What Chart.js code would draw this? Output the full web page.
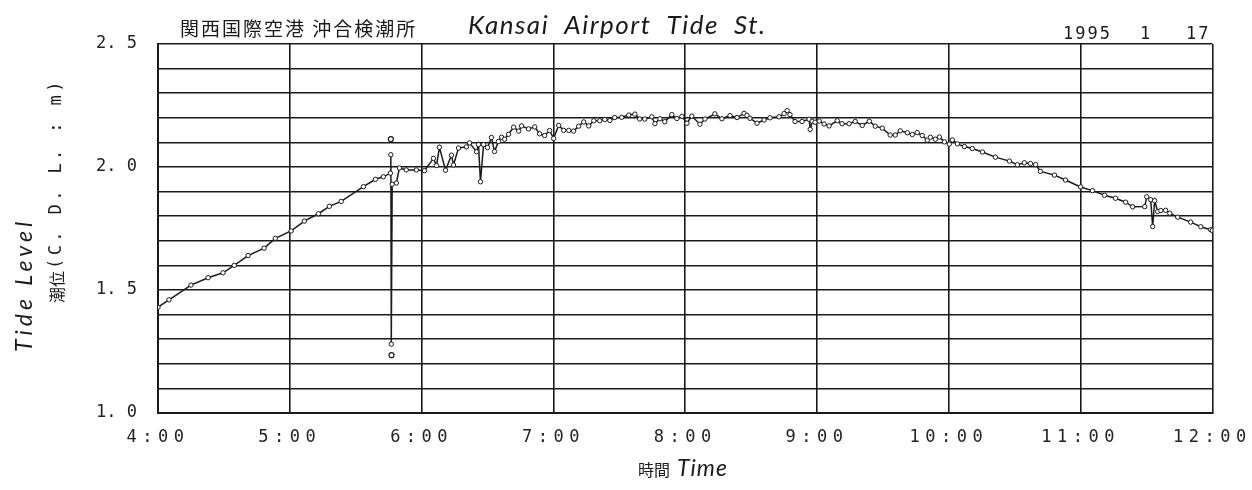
<!DOCTYPE html>
<html>
<head>
<meta charset="utf-8">
<script src="https://cdn.jsdelivr.net/npm/chart.js"></script>
<style>
  html, body { margin: 0; padding: 0; background: #fff; }
  canvas { display: block; background: #fff; }
</style>
</head>
<body>
<canvas id="tideChart" width="1252" height="490"></canvas>
<script>
// minutes after midnight, 17 Jan 1995
var times = [
  240, 245, 255, 262.8, 269.6, 274.7, 281, 288.3, 293.4, 300.6, 306.6, 313, 318, 323.4, 333.5, 339, 342.6,
  345.8, 346.0, 346.2, 346.6, 348.5, 349.9, 353, 357.6, 361.3,
  365.4, 366.8, 368.1, 370.9, 373.6, 374.5, 376.8, 380.4, 381.8, 385, 385.9, 386.8, 388.2, 390, 391.8, 393.2,
  395, 396.4, 397.8, 399.6, 401.9, 404.2, 405.5, 408.7, 411.5, 413.7, 416, 418.3, 420.1, 422.4, 424.7, 427,
  429.2, 431.5, 433.8, 436.1, 438.4, 441.1, 443.4, 445.7, 447.9, 451.1, 454.3, 457.1, 459.3, 461.6, 464.8,
  466.2, 468.5, 470.7, 473.9, 476.2, 478.5, 480.8, 483, 486.7, 489, 493.5, 496.7, 500.4, 503.6, 506.8, 508.1,
  509.5, 512.7, 515.9, 518.6, 522.7, 525, 526.4, 527.7, 530, 533.2, 536.4, 536.9, 537.8, 539.1, 541, 543.2,
  545.5, 549.2, 551.4, 554.6, 557.4, 560.6, 563.8, 566.5, 569.7, 573.3, 575.6, 577.9, 581.1, 583.4, 585.6,
  587.9, 590.2, 591.6, 593.9, 595.7, 598, 600.2, 601.6, 603.9, 607.1, 610.7, 615.3, 621.2, 627.6, 631.2,
  634.4, 637.2, 639.5, 641.7, 648.1, 653.1, 660, 665.4, 670.9, 675.9, 680.5, 683.7, 689.2, 690.1, 691.9,
  692.8, 693.7, 695.1, 696.5, 698.7, 700.6, 704.2, 710.1, 714.7, 719.2, 720
];
var levels = [
  1.43, 1.46, 1.52, 1.55, 1.57, 1.60, 1.64, 1.67, 1.71, 1.74, 1.78, 1.81, 1.84, 1.86, 1.92, 1.95, 1.96,
  1.975, 2.05, 1.28, 1.93, 1.935, 1.996, 1.988, 1.988, 1.985,
  2.035, 2.006, 2.080, 1.987, 2.048, 2.008, 2.077, 2.082, 2.098, 2.062, 2.091, 1.940, 2.091, 2.079, 2.120, 2.063,
  2.104, 2.121, 2.113, 2.133, 2.162, 2.146, 2.167, 2.155, 2.163, 2.135, 2.128, 2.148, 2.116, 2.169, 2.149, 2.149,
  2.146, 2.166, 2.183, 2.167, 2.188, 2.188, 2.193, 2.189, 2.201, 2.202, 2.211, 2.215, 2.195, 2.195, 2.204,
  2.176, 2.196, 2.184, 2.213, 2.197, 2.206, 2.178, 2.207, 2.174, 2.195, 2.216, 2.196, 2.209, 2.201, 2.218, 2.210,
  2.198, 2.178, 2.191, 2.200, 2.204, 2.217, 2.229, 2.213, 2.185, 2.185, 2.194, 2.153, 2.186, 2.182, 2.187, 2.175,
  2.167, 2.188, 2.176, 2.176, 2.185, 2.169, 2.186, 2.166, 2.158, 2.130, 2.130, 2.147, 2.139, 2.132, 2.140,
  2.128, 2.109, 2.121, 2.113, 2.122, 2.102, 2.093, 2.110, 2.094, 2.083, 2.075, 2.061, 2.040, 2.024, 2.009,
  2.017, 2.014, 2.010, 1.982, 1.967, 1.947, 1.919, 1.904, 1.885, 1.873, 1.857, 1.838, 1.839, 1.879, 1.867,
  1.758, 1.863, 1.819, 1.823, 1.824, 1.812, 1.796, 1.776, 1.757, 1.745, 1.742
];
// isolated readings around the shock at 5:46
var strayTimes = [346.0, 346.3];
var strayLevels = [2.113, 1.235];

var hourTicks = [240, 300, 360, 420, 480, 540, 600, 660, 720];

var ink = "#1a1a1a";
var mono = '"DejaVu Sans Mono", monospace';
var cjk = '"Noto Sans CJK JP", sans-serif';
var hand = "italic 400 %px Lato, sans-serif";

var sheetText = {
  id: "sheetText",
  afterDatasetsDraw: function(chart) {
    // spaced-out hour labels, drawn in the next layer
    chart.ctx.letterSpacing = "5.5px";
  },
  afterDraw: function(chart) {
    var ctx = chart.ctx;
    ctx.letterSpacing = "0px";
    ctx.save();
    ctx.fillStyle = ink;
    ctx.textBaseline = "alphabetic";
    ctx.textAlign = "left";

    ctx.font = "19px " + cjk;
    ctx.letterSpacing = "2px";
    ctx.fillText("関西国際空港 沖合検潮所", 180, 36);

    ctx.font = hand.replace("%", 26);
    ctx.letterSpacing = "1.5px";
    ctx.fillText("Kansai  Airport  Tide  St.", 468, 34);

    ctx.font = "17px " + mono;
    ctx.letterSpacing = "2px";
    ctx.fillText("1995", 1063, 39);
    ctx.fillText("1", 1140, 39);
    ctx.fillText("17", 1186, 39);

    ctx.letterSpacing = "0px";
    ctx.font = "16px " + cjk;
    ctx.fillText("時間", 638, 476);
    ctx.font = hand.replace("%", 23);
    ctx.letterSpacing = "1px";
    ctx.fillText("Time", 677, 476);

    ctx.save();
    ctx.translate(25, 285);
    ctx.rotate(-Math.PI / 2);
    ctx.textAlign = "center";
    ctx.textBaseline = "middle";
    ctx.font = hand.replace("%", 23);
    ctx.letterSpacing = "4px";
    ctx.fillText("Tide Level", 0, 0);
    ctx.restore();

    ctx.save();
    ctx.translate(57, 303);
    ctx.rotate(-Math.PI / 2);
    ctx.textBaseline = "middle";
    ctx.font = "16px " + cjk;
    ctx.letterSpacing = "0px";
    ctx.fillText("潮位", 0, 0);
    ctx.font = "17px " + mono;
    ctx.letterSpacing = "3.4px";
    ctx.fillText("(C. D. L. : m)", 34, 0);
    ctx.restore();

    ctx.restore();
    ctx.letterSpacing = "0px";
  }
};

new Chart("tideChart", {
  type: "line",
  data: {
    datasets: [{
      data: times.map(function(t, i) { return {x: t, y: levels[i]}; }),
      borderColor: ink,
      borderWidth: 1.5,
      tension: 0,
      pointRadius: 2.2,
      pointBackgroundColor: "#fff",
      pointBorderColor: ink,
      pointBorderWidth: 1
    }, {
      data: strayTimes.map(function(t, i) { return {x: t, y: strayLevels[i]}; }),
      showLine: false,
      pointRadius: 2.5,
      pointBackgroundColor: "#fff",
      pointBorderColor: ink,
      pointBorderWidth: 1.2
    }]
  },
  options: {
    responsive: false,
    animation: false,
    layout: { padding: { top: 44, right: 39, left: 0, bottom: 0 } },
    plugins: {
      legend: { display: false },
      tooltip: { enabled: false }
    },
    scales: {
      x: {
        type: "linear",
        min: 240,
        max: 720,
        afterBuildTicks: function(scale) {
          scale.ticks = hourTicks.map(function(v) { return {value: v}; });
        },
        afterFit: function(scale) { scale.height = 77; },
        grid: { color: ink, lineWidth: 1.6, drawTicks: false },
        border: { color: ink, width: 2 },
        ticks: {
          z: 1,
          padding: 14,
          color: "#222",
          font: { family: "DejaVu Sans Mono", size: 17 },
          maxRotation: 0,
          autoSkip: false,
          callback: function(v) { return (v / 60) + ":00"; }
        }
      },
      y: {
        min: 1.0,
        max: 2.5,
        afterFit: function(scale) { scale.width = 158; },
        grid: { color: ink, lineWidth: 1.6, drawTicks: false },
        border: { color: ink, width: 2 },
        ticks: {
          stepSize: 0.1,
          maxTicksLimit: 20,
          padding: 21,
          color: "#222",
          font: { family: "DejaVu Sans Mono", size: 17 },
          callback: function(v) {
            var t = Math.round(v * 10);
            if (t % 5 !== 0) return "";
            return (t / 10).toFixed(1).replace(".", ". ");
          }
        }
      }
    }
  },
  plugins: [sheetText]
});
</script>
</body>
</html>
